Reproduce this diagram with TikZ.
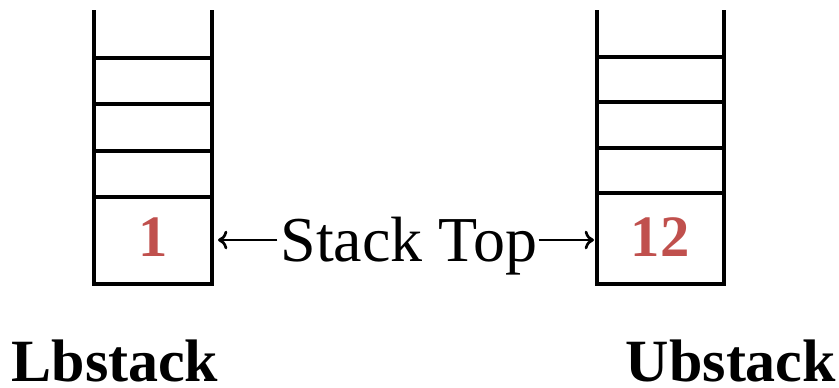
\documentclass[tikz,border=0pt]{standalone}
\usepackage{fontspec}
\setmainfont{Liberation Serif}
\usetikzlibrary{arrows.meta}
\definecolor{numred}{RGB}{192,80,77}
\begin{document}
\begin{tikzpicture}[x=0.75pt,y=-0.75pt,
  wall/.style={line width=3pt, line cap=rect},
  shelf/.style={line width=2.3pt},
  ptr/.style={line width=2pt, -{To[length=7pt,width=14pt]}},
  numtxt/.style={font=\fontsize{44}{48}\selectfont\bfseries, text=numred, anchor=base, inner sep=0pt},
  lbl/.style={font=\fontsize{45}{50}\selectfont\bfseries, anchor=base, inner sep=0pt},
  toptxt/.style={font=\fontsize{48}{52}\selectfont, anchor=base, inner sep=0pt}]
\useasboundingbox (0,0) rectangle (839,387);
% left stack
\draw[wall] (94,12) -- (94,284) -- (212,284) -- (212,12);
\foreach \y in {58,104,151,197} \draw[shelf] (94,\y) -- (212,\y);
% right stack
\draw[wall] (597,12) -- (597,284) -- (724,284) -- (724,12);
\foreach \y in {57,102,148,193} \draw[shelf] (597,\y) -- (724,\y);
\node[numtxt] (n1) at (153,256) {1};
\node[numtxt] (n12) at (660,256) {12};
\node[toptxt] (top) at (409,261) {Stack Top};
\coordinate (lend) at (218,240);
\coordinate (rend) at (594,240);
\draw[ptr] (top.west |- lend) ++(-3,0) coordinate (ls) -- (lend);
\draw[ptr] (top.east |- rend) ++(1,0) coordinate (rs) -- (rend);
\node[lbl] (lb) at (115,381) {Lbstack};
\node[lbl] (ub) at (731,381) {Ubstack};
\end{tikzpicture}
\end{document}
